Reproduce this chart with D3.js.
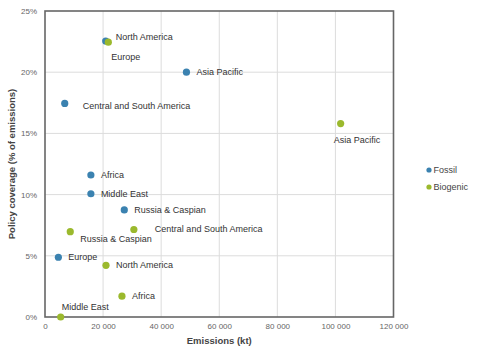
<!DOCTYPE html>
<html>
<head>
<meta charset="utf-8">
<title>Policy coverage vs emissions</title>
<script src="https://d3js.org/d3.v7.min.js"></script>
<style>
  body { margin: 0; background: #fff; }
  text { font-family: "Liberation Sans", Arial, sans-serif; }
</style>
</head>
<body>
<script>
var width = 480, height = 351;
var margin = {top: 11, right: 86, bottom: 34, left: 45};

var regions = ["North America", "Europe", "Asia Pacific", "Central and South America", "Africa", "Middle East", "Russia & Caspian"];
var fossilEmissions = [20900, 4600, 48700, 6800, 15800, 15800, 27300];
var fossilCoverage = [22.55, 4.88, 20.0, 17.45, 11.6, 10.07, 8.75];
var biogenicEmissions = [21000, 21800, 101800, 30600, 26500, 5400, 8700];
var biogenicCoverage = [4.22, 22.45, 15.8, 7.15, 1.7, 0.0, 6.97];
var seriesNames = ["Fossil", "Biogenic"];
var xTicks = [0, 20000, 40000, 60000, 80000, 100000, 120000];
var yTicks = [0, 5, 10, 15, 20, 25];

var colors = {Fossil: "#3b82b0", Biogenic: "#9bb92d"};

// label offsets (dx, dy) relative to the dot
var labelOffset = {
  "Fossil|Central and South America": [18, 2],
  "Biogenic|Central and South America": [21, -1],
  "Biogenic|Europe": [3, 15],
  "Biogenic|Asia Pacific": [-7, 16],
  "Biogenic|Russia & Caspian": [10, 7],
  "Biogenic|Middle East": [1, -10],
  "Fossil|North America": [10, -4]
};

var points = [];
regions.forEach(function(r, i) {
  points.push({series: "Fossil", name: r, x: fossilEmissions[i], y: fossilCoverage[i]});
});
regions.forEach(function(r, i) {
  points.push({series: "Biogenic", name: r, x: biogenicEmissions[i], y: biogenicCoverage[i]});
});

var x = d3.scaleLinear().domain([0, 120000]).range([margin.left, width - margin.right - 0.5]);
var y = d3.scaleLinear().domain([0, 25]).range([height - margin.bottom, margin.top]);

var svg = d3.select("body").append("svg")
  .attr("width", width)
  .attr("height", height);

var fmt = function(d) { return d3.format(",")(d).replace(/,/g, " "); };

// grid
svg.append("g")
  .selectAll("line.vx")
  .data(xTicks.slice(1, -1))
  .enter().append("line")
    .attr("x1", function(d) { return x(d); })
    .attr("x2", function(d) { return x(d); })
    .attr("y1", y(25))
    .attr("y2", y(0))
    .attr("stroke", "#dcdcdc")
    .attr("stroke-width", 1);

svg.append("g")
  .selectAll("line.hy")
  .data(yTicks.slice(1, -1))
  .enter().append("line")
    .attr("x1", x(0))
    .attr("x2", x(120000))
    .attr("y1", function(d) { return y(d); })
    .attr("y2", function(d) { return y(d); })
    .attr("stroke", "#dcdcdc")
    .attr("stroke-width", 1);

// axes (ticks text only)
var xAxis = svg.append("g")
  .attr("transform", "translate(0," + y(0) + ")")
  .call(d3.axisBottom(x).tickValues(xTicks).tickFormat(fmt).tickSize(0).tickPadding(6));
xAxis.select(".domain").remove();
xAxis.selectAll("text").attr("fill", "#666").style("font-size", "8px");

var yAxis = svg.append("g")
  .attr("transform", "translate(" + x(0) + ",0)")
  .call(d3.axisLeft(y).tickValues(yTicks).tickFormat(function(d) { return d + "%"; }).tickSize(0).tickPadding(8));
yAxis.select(".domain").remove();
yAxis.selectAll("text").attr("fill", "#666").style("font-size", "8px");

// frame
svg.append("rect")
  .attr("x", x(0))
  .attr("y", y(25))
  .attr("width", x(120000) - x(0))
  .attr("height", y(0) - y(25))
  .attr("fill", "none")
  .attr("stroke", "#666")
  .attr("stroke-width", 1.6);

// axis titles
svg.append("text")
  .attr("x", (x(0) + x(120000)) / 2)
  .attr("y", 344)
  .attr("text-anchor", "middle")
  .attr("fill", "#444")
  .style("font-size", "9.5px")
  .style("font-weight", "bold")
  .text("Emissions (kt)");

svg.append("text")
  .attr("transform", "translate(15," + ((y(0) + y(25)) / 2) + ") rotate(-90)")
  .attr("text-anchor", "middle")
  .attr("fill", "#444")
  .style("font-size", "9.5px")
  .style("font-weight", "bold")
  .text("Policy coverage (% of emissions)");

// points
var g = svg.append("g");
g.selectAll("circle")
  .data(points)
  .enter().append("circle")
    .attr("cx", function(d) { return x(d.x); })
    .attr("cy", function(d) { return y(d.y); })
    .attr("r", 3.6)
    .attr("fill", function(d) { return colors[d.series]; });

g.selectAll("text.lbl")
  .data(points)
  .enter().append("text")
    .attr("class", "lbl")
    .attr("x", function(d) {
      var o = labelOffset[d.series + "|" + d.name] || [10, 0];
      return x(d.x) + o[0];
    })
    .attr("y", function(d) {
      var o = labelOffset[d.series + "|" + d.name] || [10, 0];
      return y(d.y) + o[1];
    })
    .attr("dy", "0.35em")
    .attr("fill", "#333")
    .style("font-size", "9px")
    .text(function(d) { return d.name; });

// legend
var legend = svg.append("g")
  .selectAll("g")
  .data(seriesNames)
  .enter().append("g")
    .attr("transform", function(d, i) { return "translate(429," + (170 + i * 17) + ")"; });

legend.append("circle")
  .attr("r", 2.6)
  .attr("fill", function(d) { return colors[d]; });

legend.append("text")
  .attr("x", 4.5)
  .attr("dy", "0.35em")
  .attr("fill", "#444")
  .style("font-size", "9px")
  .text(function(d) { return d; });
</script>
</body>
</html>
